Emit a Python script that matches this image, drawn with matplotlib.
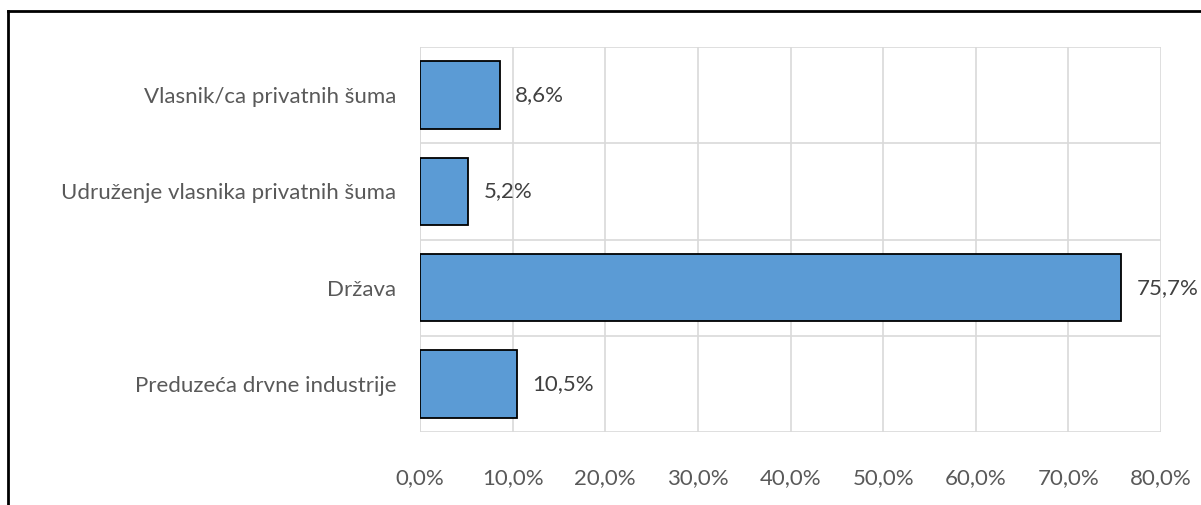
import matplotlib
matplotlib.use("Agg")
import matplotlib.pyplot as plt
from matplotlib.lines import Line2D
from matplotlib.ticker import MultipleLocator, FuncFormatter

categories = ["Vlasnik/ca privatnih šuma", "Udruženje vlasnika privatnih šuma",
              "Država", "Preduzeća drvne industrije"]
values = [8.6, 5.2, 75.7, 10.5]
value_labels = ["8,6%", "5,2%", "75,7%", "10,5%"]

plt.rcParams['font.family'] = ['Lato', 'DejaVu Sans']
FS = 16
W, H = 1201, 505
fig = plt.figure(figsize=(W / 100, H / 100), dpi=100)
ax = fig.add_axes([420 / W, 1 - 432 / H, (1161 - 420) / W, (432 - 47) / H])

ypos = list(range(len(categories)))[::-1]
ax.barh(ypos, values, height=0.7, color="#5B9BD5", edgecolor="black", linewidth=1.3, zorder=3)
ax.set_ylim(-0.5, len(categories) - 0.5)
ax.set_xlim(0, 80)
ax.xaxis.set_major_locator(MultipleLocator(10))
ax.xaxis.set_major_formatter(FuncFormatter(lambda v, p: f"{v:.1f}%".replace(".", ",")))
ax.set_yticks(ypos)
ax.set_yticklabels(categories)
ax.set_yticks([y + 0.5 for y in ypos], minor=True)
ax.tick_params(axis='both', which='both', length=0, colors="#595959", labelsize=FS)
ax.tick_params(axis='x', pad=26)
ax.tick_params(axis='y', pad=17)
ax.grid(True, axis='x', color="#D9D9D9", linewidth=1.2, zorder=0)
ax.grid(True, axis='y', which='minor', color="#D9D9D9", linewidth=1.2, zorder=0)
for s in ax.spines.values():
    s.set_visible(False)
ax.axvline(0, color="#D9D9D9", linewidth=1.2, zorder=1)
ax.axhline(-0.5, color="#D9D9D9", linewidth=1.2, zorder=1)

for y, v, lab in zip(ypos, values, value_labels):
    ax.annotate(lab, (v, y), xytext=(11, 0), textcoords="offset points",
                va="center", ha="left", color="#404040", fontsize=FS)

# outer frame (left and top lines)
fig.add_artist(Line2D([7.5 / W, 7.5 / W], [0, 1 - 11 / H], transform=fig.transFigure, color="black", linewidth=2))
fig.add_artist(Line2D([7.5 / W, 1], [1 - 11 / H, 1 - 11 / H], transform=fig.transFigure, color="black", linewidth=2))

fig.savefig("out.png", dpi=100, facecolor="white")
